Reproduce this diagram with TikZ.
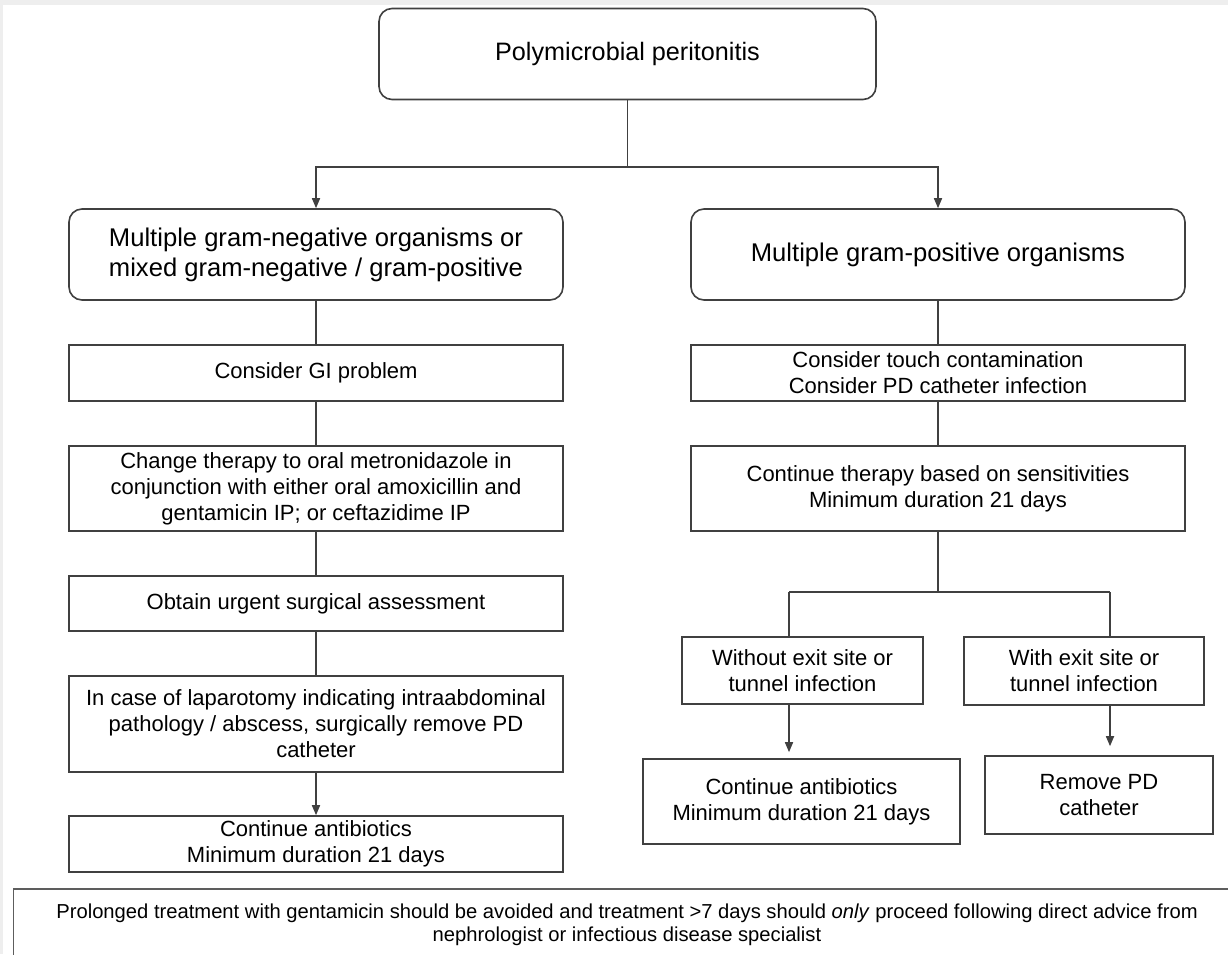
\documentclass[tikz,border=0pt]{standalone}
\usepackage{fontspec}
\setmainfont{Liberation Sans}
\usetikzlibrary{arrows.meta}
\definecolor{edgegray}{HTML}{404040}
\definecolor{stripgray}{HTML}{EEEEEE}
\tikzset{
  box/.style={draw=edgegray, line width=1.6pt, fill=white, align=center,
    inner sep=0pt, text=black, font=\fontsize{22}{26}\selectfont},
  headbox/.style={box, rounded corners=13pt, font=\fontsize{25.6}{30}\selectfont},
  link/.style={draw=edgegray, line width=1.6pt},
  arrowlink/.style={link, -{Triangle[width=8pt,length=10pt]}},
  note/.style={align=center, inner sep=0pt, text=black, font=\fontsize{20.2}{23.5}\selectfont}
}
\begin{document}
\begin{tikzpicture}[x=1pt,y=-1pt]
  \useasboundingbox (0,0) rectangle (1228,954);
  \clip (0,0) rectangle (1228,954);
  \fill[white] (0,0) rectangle (1228,954);
  % thin light margin along the top and left edges
  \fill[stripgray] (0,0) rectangle (1228,5);
  \fill[stripgray] (0,0) rectangle (3,954);

  % root
  \node[headbox, minimum width=497pt, minimum height=91pt,
        font=\fontsize{25.2}{30}\selectfont] (root) at (627.5,54) {Polymicrobial peritonitis};

  % left branch
  \node[headbox, minimum width=494pt, minimum height=91pt] (L1) at (316,254.5)
    {Multiple gram-negative organisms or\\mixed gram-negative / gram-positive};
  \node[box, minimum width=494pt, minimum height=56pt] (L2) at (316,373) {Consider GI problem};
  \node[box, minimum width=494pt, minimum height=85pt] (L3) at (316,488.5)
    {Change therapy to oral metronidazole in\\conjunction with either oral amoxicillin and\\gentamicin IP; or ceftazidime IP};
  \node[box, minimum width=494pt, minimum height=55pt] (L4) at (316,603.5) {Obtain urgent surgical assessment};
  \node[box, minimum width=494pt, minimum height=96pt] (L5) at (316,724)
    {In case of laparotomy indicating intraabdominal\\pathology / abscess, surgically remove PD\\catheter};
  \node[box, minimum width=494pt, minimum height=56pt] (L6) at (316,844)
    {Continue antibiotics\\Minimum duration 21 days};

  % right branch
  \node[headbox, minimum width=494pt, minimum height=91pt] (R1) at (938,254.5) {Multiple gram-positive organisms};
  \node[box, minimum width=494pt, minimum height=56pt] (R2) at (938,373)
    {Consider touch contamination\\Consider PD catheter infection};
  \node[box, minimum width=494pt, minimum height=85pt] (R3) at (938,488.5)
    {Continue therapy based on sensitivities\\Minimum duration 21 days};
  \node[box, minimum width=241pt, minimum height=67pt] (R4a) at (802.5,670.5)
    {Without exit site or\\tunnel infection};
  \node[box, minimum width=240pt, minimum height=68pt] (R4b) at (1084,671)
    {With exit site or\\tunnel infection};
  \node[box, minimum width=317pt, minimum height=85pt] (R5a) at (801.5,801.5)
    {Continue antibiotics\\Minimum duration 21 days};
  \node[box, minimum width=228pt, minimum height=78pt] (R5b) at (1099,795)
    {Remove PD\\catheter};

  % footnote frame runs past the right and bottom edges
  \node[note] (fn) at (627,925)
    {Prolonged treatment with gentamicin should be avoided and treatment >7 days should \textit{only} proceed following direct advice from\\nephrologist or infectious disease specialist};
  \draw[draw=edgegray!85, line width=1.6pt] (13.5,970) -- (13.5,889) -- (1240,889);

  % connectors
  \coordinate (split) at (627.5,167);
  \coordinate (ra) at (789,592);
  \coordinate (rb) at (1110,592);
  \draw[link] (root.south) -- (split);
  \draw[arrowlink] (split) -| (L1.north);
  \draw[arrowlink] (split) -| (R1.north);

  \draw[link] (L1) -- (L2);
  \draw[link] (L2) -- (L3);
  \draw[link] (L3) -- (L4);
  \draw[link] (L4) -- (L5);
  \draw[arrowlink] (L5) -- (L6);

  \draw[link] (R1) -- (R2);
  \draw[link] (R2) -- (R3);
  \draw[link] (R3.south) -- (R3.south |- ra);
  \draw[link] (ra) -- (rb);
  \draw[link] (ra) -- (ra |- R4a.north);
  \draw[link] (rb) -- (rb |- R4b.north);
  \draw[arrowlink, shorten >=6pt] (ra |- R4a.south) -- (ra |- R5a.north);
  \draw[arrowlink, shorten >=9pt] (rb |- R4b.south) -- (rb |- R5b.north);
\end{tikzpicture}
\end{document}
